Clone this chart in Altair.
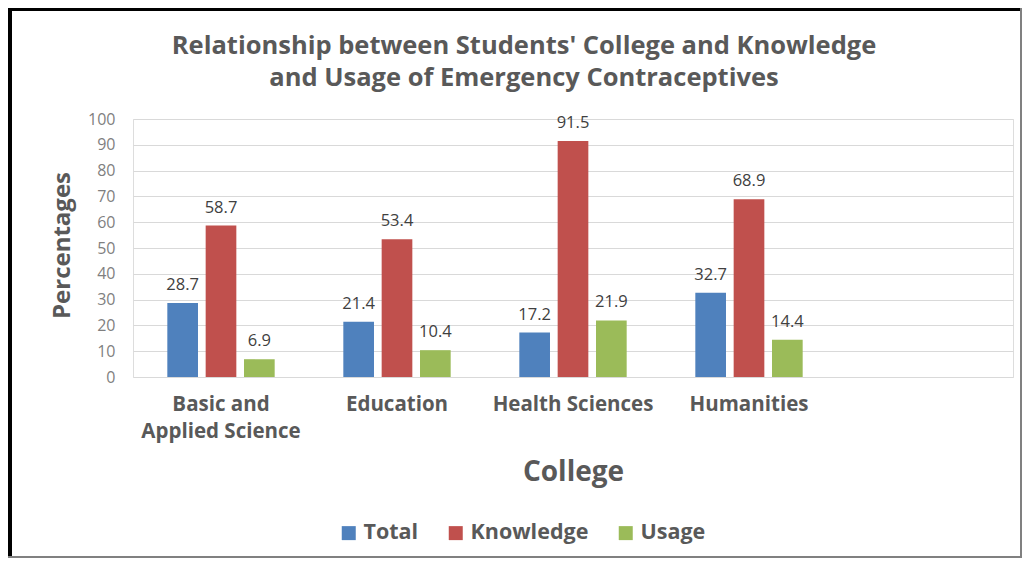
import altair as alt
import pandas as pd

colleges = ["Basic and Applied Science", "Education", "Health Sciences", "Humanities"]
series = ["Total", "Knowledge", "Usage"]
total = [28.7, 21.4, 17.2, 32.7]
knowledge = [58.7, 53.4, 91.5, 68.9]
usage = [6.9, 10.4, 21.9, 14.4]
colors = ["#4F81BD", "#C0504D", "#9BBB59"]
y_ticks = [0, 10, 20, 30, 40, 50, 60, 70, 80, 90, 100]

rows = []
for s, vals in zip(series, [total, knowledge, usage]):
    for c, v in zip(colleges, vals):
        rows.append({"College": c, "Series": s, "Value": v})
df = pd.DataFrame(rows)

domain_x = colleges + [" "]
FONT = "Open Sans"
GRAY = "#595959"

x_enc = alt.X("College:N", sort=domain_x,
              scale=alt.Scale(domain=domain_x, paddingInner=0.39, paddingOuter=0.195),
              axis=alt.Axis(title="College", titleFont=FONT, titleFontSize=28, titleFontWeight="bold",
                            titleColor=GRAY, titleX=440, titleY=95, titleBaseline="middle",
                            labelFont=FONT, labelFontSize=20.5, labelFontWeight="bold", labelColor=GRAY,
                            labelAngle=0, labelPadding=17, labelLineHeight=27, labelBaseline="top",
                            labelExpr="datum.value == 'Basic and Applied Science' ? ['Basic and', 'Applied Science'] : datum.value",
                            ticks=False, domain=False, grid=False))
xo_enc = alt.XOffset("Series:N", sort=series, scale=alt.Scale(domain=series, paddingInner=0.2))
y_enc = alt.Y("Value:Q", scale=alt.Scale(domain=[0, 100], nice=False),
              axis=alt.Axis(title="Percentages", titleFont=FONT, titleFontSize=24, titleFontWeight="bold",
                            titleColor=GRAY, titleX=-71, titleY=126, titleAngle=-90,
                            titleAlign="center", titleBaseline="middle",
                            values=y_ticks, tickCount=len(y_ticks), labelOverlap=False,
                            labelFont=FONT, labelFontSize=16, labelColor="#7f7f7f",
                            labelPadding=18, ticks=False, domain=False,
                            gridColor="#d9d9d9", gridWidth=1.2))

bars = alt.Chart(df).mark_bar().encode(
    x=x_enc, xOffset=xo_enc, y=y_enc,
    color=alt.Color("Series:N", sort=series,
                    scale=alt.Scale(domain=series, range=colors),
                    legend=alt.Legend(title=None, orient="none", direction="horizontal",
                                      legendX=205, legendY=403, symbolType="square", symbolSize=196,
                                      symbolStrokeWidth=0, labelFont=FONT, labelFontSize=21.5,
                                      labelFontWeight="bold", labelColor=GRAY, labelOffset=4,
                                      columnPadding=26))
)

labels = alt.Chart(df).mark_text(baseline="bottom", dy=-10, font=FONT, fontSize=16.5, color="#404040").encode(
    x=x_enc, xOffset=xo_enc, y=y_enc,
    text=alt.Text("Value:Q", format=".1f")
)

frame_left = alt.Chart(df).mark_rule(color="black", strokeWidth=4).encode(
    x=alt.value(-123.5), y=alt.value(-112), y2=alt.value(440))
frame_top = alt.Chart(df).mark_rule(color="black", strokeWidth=4).encode(
    x=alt.value(-125), x2=alt.value(889), y=alt.value(-110))
frame_right = alt.Chart(df).mark_rule(color="#808080", strokeWidth=1.5).encode(
    x=alt.value(888), y=alt.value(-112), y2=alt.value(438))
frame_bottom = alt.Chart(df).mark_rule(color="#808080", strokeWidth=1.5).encode(
    x=alt.value(-125), x2=alt.value(889), y=alt.value(438))

chart = alt.layer(bars, labels, frame_left, frame_top, frame_right, frame_bottom).properties(
    width=880, height=258,
    autosize=alt.AutoSizeParams(type="none"),
    padding={"left": 125, "top": 111, "right": 10, "bottom": 181},
    title=alt.Title(["Relationship between Students' College and Knowledge",
                     "and Usage of Emergency Contraceptives"],
                    font=FONT, fontSize=25.5, fontWeight="bold", color=GRAY,
                    anchor="middle", dx=-49, offset=-86, lineHeight=32),
).configure_view(stroke=None).configure(background="white")

chart.save("out.html", embed_options={"renderer": "svg", "actions": False})
